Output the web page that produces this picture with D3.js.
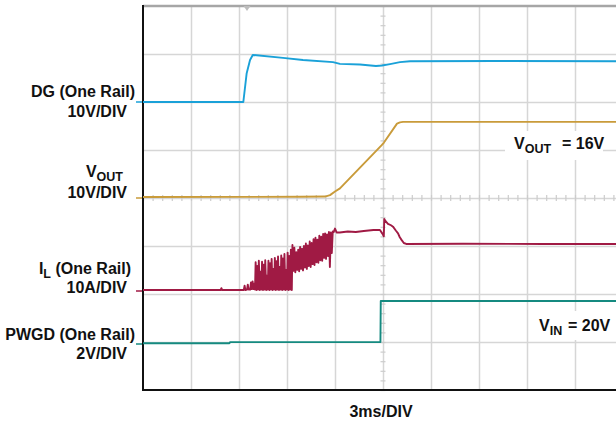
<!DOCTYPE html>
<html>
<head>
<meta charset="utf-8">
<script src="https://cdn.jsdelivr.net/npm/d3@7"></script>
<style>
  html, body { margin: 0; padding: 0; background: #fff; }
  svg { display: block; font-family: "Liberation Sans", Arial, sans-serif; font-weight: bold; }
</style>
</head>
<body>
<svg id="chart" width="616" height="423"></svg>
<script>
// Start-up capture: time in ms (3 ms/div), each channel in its own units.
const gridTimes = d3.range(3, 30, 3);          // vertical graticule lines
const gridDivs = [-3, -2, -1, 0, 1, 2, 3];     // horizontal graticule lines
const minorTimes = d3.range(0, 30.01, 0.6);    // crosshair minor ticks (time)
const minorDivs = d3.range(-4, 4.01, 0.2);     // crosshair minor ticks (divisions)

// DG (One Rail), volts
const dgTrace = [
  [0, 0], [6.27, 0], [6.48, 6.0], [6.69, 8.75], [6.86, 9.8], [8.75, 9.2],
  [10.0, 8.75], [11.875, 8.3], [12.31, 7.95], [13.56, 7.8], [14.56, 7.5],
  [14.94, 7.6], [15.44, 7.9], [16.06, 8.3], [16.69, 8.5], [22.0, 8.55], [30, 8.5]
];

// VOUT, volts
const voutTrace = [
  [0, 0.2], [9.8, 0.25], [11.375, 0.3], [11.69, 0.6], [12.0, 1.35], [12.31, 2.0],
  [14.92, 11.0], [15.06, 11.55], [15.875, 15.5], [16.06, 15.75], [16.25, 15.85], [30, 15.85]
];

// IL (One Rail), amps
const ilTrace = [
  [0, 0.2], [4.85, 0.2], [4.9, 0.6], [4.95, 0.2], [6.3, 0.2], [6.35, 1.1], [6.4, 0.2],
  [6.5, 0.3], [6.55, 1.3], [6.6, 0.3], [6.7, 0.3], [6.75, 1.8], [6.8, 0.4], [6.85, 2.0],
  [6.9, 0.4], [6.95, 1.5],
  [7.00, 0.3], [7.04, 6.0], [7.10, 0.2], [7.14, 5.2], [7.20, 0.3], [7.24, 6.3],
  [7.30, 0.2], [7.34, 4.0], [7.40, 0.3], [7.44, 6.1], [7.50, 0.2], [7.54, 5.5],
  [7.60, 0.3], [7.64, 6.4], [7.70, 0.2], [7.74, 3.2], [7.80, 0.3], [7.84, 6.3],
  [7.90, 0.2], [7.94, 5.8], [8.00, 0.3], [8.04, 6.7], [8.10, 0.2], [8.14, 4.6],
  [8.20, 0.3], [8.24, 6.9], [8.30, 0.2], [8.34, 6.2], [8.40, 0.3], [8.44, 7.2],
  [8.50, 0.2], [8.54, 5.0], [8.60, 0.3], [8.64, 7.4], [8.70, 0.2], [8.74, 6.8],
  [8.80, 0.3], [8.84, 7.7], [8.90, 0.2], [8.94, 4.4], [9.00, 0.3], [9.04, 8.0],
  [9.10, 0.2], [9.14, 7.3], [9.20, 0.3], [9.24, 8.6], [9.30, 0.2], [9.34, 9.6],
  [9.40, 4.2], [9.46, 9.0], [9.52, 3.9], [9.58, 8.1], [9.64, 4.4], [9.70, 8.6],
  [9.76, 4.1], [9.82, 9.2], [9.88, 4.6], [9.94, 8.8], [10.00, 4.3], [10.06, 9.4],
  [10.12, 4.9], [10.18, 9.9], [10.24, 4.6], [10.30, 9.5], [10.36, 5.2], [10.42, 10.3],
  [10.48, 5.0], [10.54, 10.0], [10.60, 5.6], [10.66, 10.8], [10.72, 5.4], [10.78, 11.1],
  [10.84, 6.0], [10.90, 10.7], [10.96, 5.9], [11.02, 11.5], [11.08, 6.4], [11.14, 11.3],
  [11.20, 6.3], [11.26, 11.9], [11.32, 6.9], [11.38, 12.0], [11.44, 6.7], [11.50, 11.8],
  [11.56, 7.3], [11.62, 12.3], [11.68, 5.0], [11.74, 12.2], [11.80, 7.9], [11.86, 12.4],
  [11.92, 12.3], [12.0, 13.0], [12.1, 12.2], [12.3, 12.2], [12.8, 12.4], [13.3, 12.3],
  [13.8, 12.5], [14.4, 12.7], [14.81, 12.7], [14.95, 12.0], [15.05, 11.4], [15.08, 15.0],
  [15.15, 14.6], [15.31, 14.0], [15.5, 13.7], [15.625, 13.4], [15.8, 12.6], [15.94, 12.0],
  [16.05, 11.2], [16.17, 10.6], [16.3, 10.0], [16.45, 9.8], [20, 9.85], [25, 9.8], [30, 9.8]
];

// PWGD (One Rail), volts
const pwgdTrace = [
  [0, 0.03], [5.4, 0.03], [5.45, 0.08], [14.84, 0.08], [14.86, 1.79], [30, 1.79]
];

const channels = [
  { key: "dg",   perDiv: 10, offset: 2,       color: "#1aa1d8", data: dgTrace },
  { key: "vout", perDiv: 10, offset: 0,       color: "#c99b3a", data: voutTrace },
  { key: "il",   perDiv: 10, offset: -1.9375, color: "#a01a44", data: ilTrace },
  { key: "pwgd", perDiv: 2,  offset: -3.0417, color: "#158a80", data: pwgdTrace }
];

const svg = d3.select("#chart");
const x = d3.scaleLinear().domain([0, 30]).range([143, 623]);
const y = d3.scaleLinear().domain([-4, 4]).range([390, 6]);
const plotW = x(30) - x(0), plotH = y(-4) - y(4);

const gridColor = "#d6d6d6";

// Graticule
const vGrid = svg.append("g").attr("transform", `translate(0,${y(-4)})`)
  .call(d3.axisBottom(x).tickValues(gridTimes).tickSize(-plotH).tickFormat(""));
const hGrid = svg.append("g").attr("transform", `translate(${x(0)},0)`)
  .call(d3.axisLeft(y).tickValues(gridDivs).tickSize(-plotW).tickFormat(""));
[vGrid, hGrid].forEach(g => {
  g.select(".domain").remove();
  g.selectAll(".tick line").attr("stroke", gridColor).attr("stroke-width", 1.5);
});

// Crosshair minor ticks
const cx = x(15), cy = y(0);
const tv = svg.append("g").attr("transform", `translate(${cx + 2.5},0)`)
  .call(d3.axisLeft(y).tickValues(minorDivs).tickSize(5).tickFormat(""));
const th = svg.append("g").attr("transform", `translate(0,${cy - 3})`)
  .call(d3.axisBottom(x).tickValues(minorTimes).tickSize(6).tickFormat(""));
[tv, th].forEach(g => {
  g.select(".domain").remove();
  g.selectAll(".tick line").attr("stroke", "#cccccc").attr("stroke-width", 1.2);
});

// Frame
svg.append("line").attr("x1", x(0)).attr("x2", 616).attr("y1", y(4)).attr("y2", y(4))
  .attr("stroke", "#a6a6a6").attr("stroke-width", 2.5);
svg.append("line").attr("x1", x(0)).attr("x2", x(0)).attr("y1", y(4) - 1).attr("y2", y(-4) + 1)
  .attr("stroke", "#111").attr("stroke-width", 2);
svg.append("line").attr("x1", x(0) - 1).attr("x2", 616).attr("y1", y(-4)).attr("y2", y(-4))
  .attr("stroke", "#111").attr("stroke-width", 2);

// Trigger position marker
const tt = x(6.5);
svg.append("path")
  .attr("d", `M${tt - 3.5},${y(4)} L${tt + 3.5},${y(4)} L${tt},${y(4) + 5} Z`)
  .attr("fill", "#bdbdbd");

// Annotation backgrounds
svg.append("rect").attr("x", 505).attr("y", 131).attr("width", 98).attr("height", 29).attr("fill", "#fff");
svg.append("rect").attr("x", 530).attr("y", 311).attr("width", 86).attr("height", 29).attr("fill", "#fff");

// Channel ground markers
channels.forEach(ch => {
  svg.append("line")
    .attr("x1", x(0) - 7).attr("x2", x(0) - 1)
    .attr("y1", y(ch.offset)).attr("y2", y(ch.offset))
    .attr("stroke", ch.color).attr("stroke-width", 1.5);
});

// Traces
channels.forEach(ch => {
  const line = d3.line()
    .x(d => x(d[0]))
    .y(d => y(d[1] / ch.perDiv + ch.offset));
  svg.append("path")
    .datum(ch.data)
    .attr("d", line)
    .attr("fill", "none")
    .attr("stroke", ch.color)
    .attr("stroke-width", 1.9)
    .attr("stroke-linejoin", "round");
});

// Text
const fs = 16, sub = 12.5;
function label(xr, yb, parts) {
  const t = svg.append("text").attr("x", xr).attr("y", yb)
    .attr("text-anchor", "end").attr("font-size", fs).attr("fill", "#111");
  parts.forEach(p => {
    const s = t.append("tspan").text(p.text);
    if (p.sub) s.attr("font-size", sub).attr("dy", 4);
    if (p.up) s.attr("dy", -4);
  });
}
label(135, 97, [{ text: "DG (One Rail)" }]);
label(127, 117, [{ text: "10V/DIV" }]);
label(123, 177, [{ text: "V" }, { text: "OUT", sub: true }]);
label(127, 198, [{ text: "10V/DIV" }]);
label(131, 274, [{ text: "I" }, { text: "L", sub: true }, { text: " (One Rail)", up: true }]);
label(127, 293, [{ text: "10A/DIV" }]);
label(135, 340, [{ text: "PWGD (One Rail)" }]);
label(127, 359, [{ text: "2V/DIV" }]);

function note(x0, yb, main, subText, rest, restX) {
  const t = svg.append("text").attr("x", x0).attr("y", yb)
    .attr("font-size", fs).attr("fill", "#111");
  t.append("tspan").text(main);
  t.append("tspan").text(subText).attr("font-size", sub).attr("dy", 4);
  t.append("tspan").text(rest).attr("x", restX).attr("dy", -4);
}
note(514, 149, "V", "OUT", "= 16V", 562);
note(539, 331, "V", "IN", "= 20V", 568);

svg.append("text").attr("x", 381).attr("y", 417)
  .attr("text-anchor", "middle").attr("font-size", fs).attr("fill", "#111")
  .text("3ms/DIV");
</script>
</body>
</html>
